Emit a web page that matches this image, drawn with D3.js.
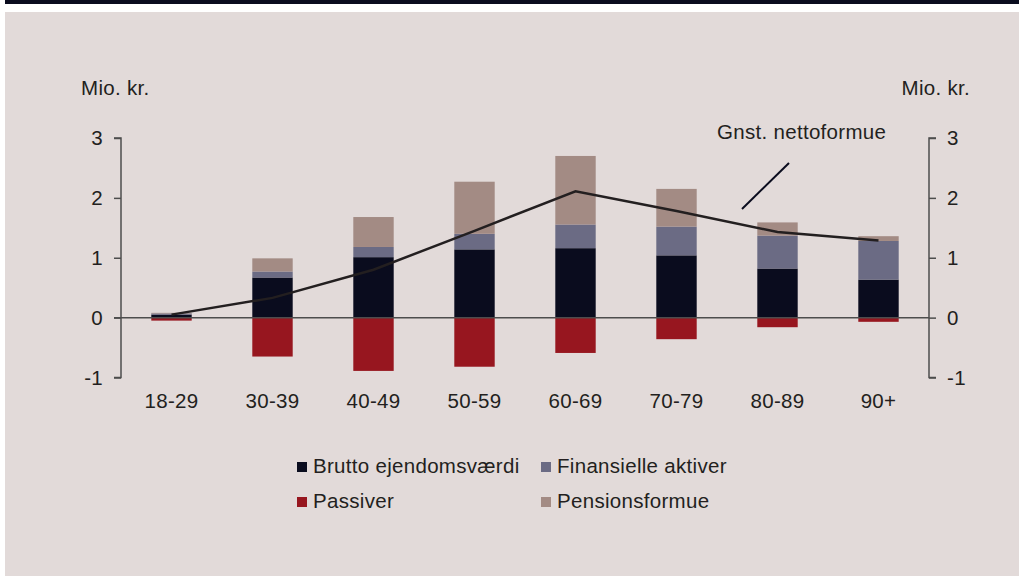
<!DOCTYPE html>
<html><head><meta charset="utf-8">
<script src="https://cdn.jsdelivr.net/npm/d3@7"></script>
<style>html,body{margin:0;padding:0;background:#fff;}svg text{font-family:"Liberation Sans",Arial,sans-serif;fill:#231f20;letter-spacing:0.3px;}</style>
</head><body>
<svg id="c" width="1019" height="579"></svg>
<script>
const categories = ["18-29","30-39","40-49","50-59","60-69","70-79","80-89","90+"];
const brutto   = [0.05, 0.67, 1.01, 1.14, 1.16, 1.04, 0.82, 0.635];
const finans   = [0.02, 0.10, 0.17, 0.26, 0.395, 0.48, 0.55, 0.645];
const pension  = [0.01, 0.22, 0.50, 0.87, 1.145, 0.63, 0.22, 0.08];
const passiver = [-0.05, -0.65, -0.89, -0.82, -0.59, -0.36, -0.16, -0.07];
const netto    = [0.05, 0.33, 0.80, 1.45, 2.11, 1.78, 1.43, 1.29];
const yTicks = [-1, 0, 1, 2, 3];
const seriesNames = ["Brutto ejendomsværdi","Finansielle aktiver","Passiver","Pensionsformue"];
const colors = {brutto:"#0a0c1e", finans:"#6b6b84", passiver:"#97161f", pension:"#a38b84"};
const FS = 20.5;

const svg = d3.select("#c");
svg.append("rect").attr("x",5).attr("y",0).attr("width",1014).attr("height",4).attr("fill","#0a0c1e");
svg.append("rect").attr("x",5).attr("y",12).attr("width",1014).attr("height",564).attr("fill","#e2dad9");

const x = d3.scaleBand().domain(categories).range([121,929]).paddingInner(0.6).paddingOuter(0.3);
const y = d3.scaleLinear().domain([-1,3]).range([377.5,138]);

// stacked bars
const g = svg.append("g");
categories.forEach((c,i)=>{
  const segs = [
    {k:"brutto", y0:0, y1:brutto[i]},
    {k:"finans", y0:brutto[i], y1:brutto[i]+finans[i]},
    {k:"pension", y0:brutto[i]+finans[i], y1:brutto[i]+finans[i]+pension[i]},
    {k:"passiver", y0:passiver[i], y1:0}
  ];
  segs.forEach(s=>{
    g.append("rect").attr("x",x(c)).attr("width",x.bandwidth())
     .attr("y",y(s.y1)).attr("height",y(s.y0)-y(s.y1))
     .attr("fill",colors[s.k]);
  });
});

// zero line
svg.append("line").attr("x1",114).attr("x2",929).attr("y1",y(0)).attr("y2",y(0))
  .attr("stroke","#4d4d4d").attr("stroke-width",1.5);

// axes
const fmt = d => String(d);
const axL = svg.append("g").attr("transform","translate(121,0)")
  .call(d3.axisLeft(y).tickValues(yTicks).tickSize(7).tickPadding(11).tickFormat(fmt));
const axR = svg.append("g").attr("transform","translate(929,0)")
  .call(d3.axisRight(y).tickValues(yTicks).tickSize(7).tickPadding(11).tickFormat(fmt));
[axL,axR].forEach(a=>{
  a.select(".domain").attr("stroke","#4d4d4d").attr("stroke-width",1.5);
  a.selectAll(".tick line").attr("stroke","#4d4d4d").attr("stroke-width",1.5);
  a.selectAll(".tick text").attr("font-size",FS).attr("fill","#231f20");
});
axL.select(".domain").attr("d",`M-7,${y(3)}H0V${y(-1)}H-7`);
axR.select(".domain").attr("d",`M7,${y(3)}H0V${y(-1)}H7`);

// x labels
svg.append("g").attr("transform",`translate(0,${y(-1)})`)
  .call(d3.axisBottom(x).tickSize(0).tickPadding(16))
  .call(a=>{a.select(".domain").remove(); a.selectAll("text").attr("font-size",FS).attr("fill","#231f20");});

// line
svg.append("path").datum(netto)
  .attr("d", d3.line().x((d,i)=>x(categories[i])+x.bandwidth()/2).y(d=>y(d)))
  .attr("fill","none").attr("stroke","#231f20").attr("stroke-width",2.5);

// unit labels
svg.append("text").attr("x",81).attr("y",95).attr("font-size",FS).text("Mio. kr.");
svg.append("text").attr("x",970).attr("y",95).attr("font-size",FS).attr("text-anchor","end").text("Mio. kr.");

// annotation
svg.append("text").attr("x",717).attr("y",139).attr("font-size",FS).text("Gnst. nettoformue");
svg.append("line").attr("x1",742).attr("y1",209).attr("x2",789).attr("y2",163)
  .attr("stroke","#0a0c1e").attr("stroke-width",2);

// legend
const leg = [
  {n:seriesNames[0], c:colors.brutto, x:297, y:462},
  {n:seriesNames[1], c:colors.finans, x:541, y:462},
  {n:seriesNames[2], c:colors.passiver, x:297, y:497},
  {n:seriesNames[3], c:colors.pension, x:541, y:497}
];
leg.forEach(l=>{
  svg.append("rect").attr("x",l.x).attr("y",l.y).attr("width",10).attr("height",10).attr("fill",l.c);
  svg.append("text").attr("x",l.x+16).attr("y",l.y+10.5).attr("font-size",FS).text(l.n);
});
</script>
</body></html>
